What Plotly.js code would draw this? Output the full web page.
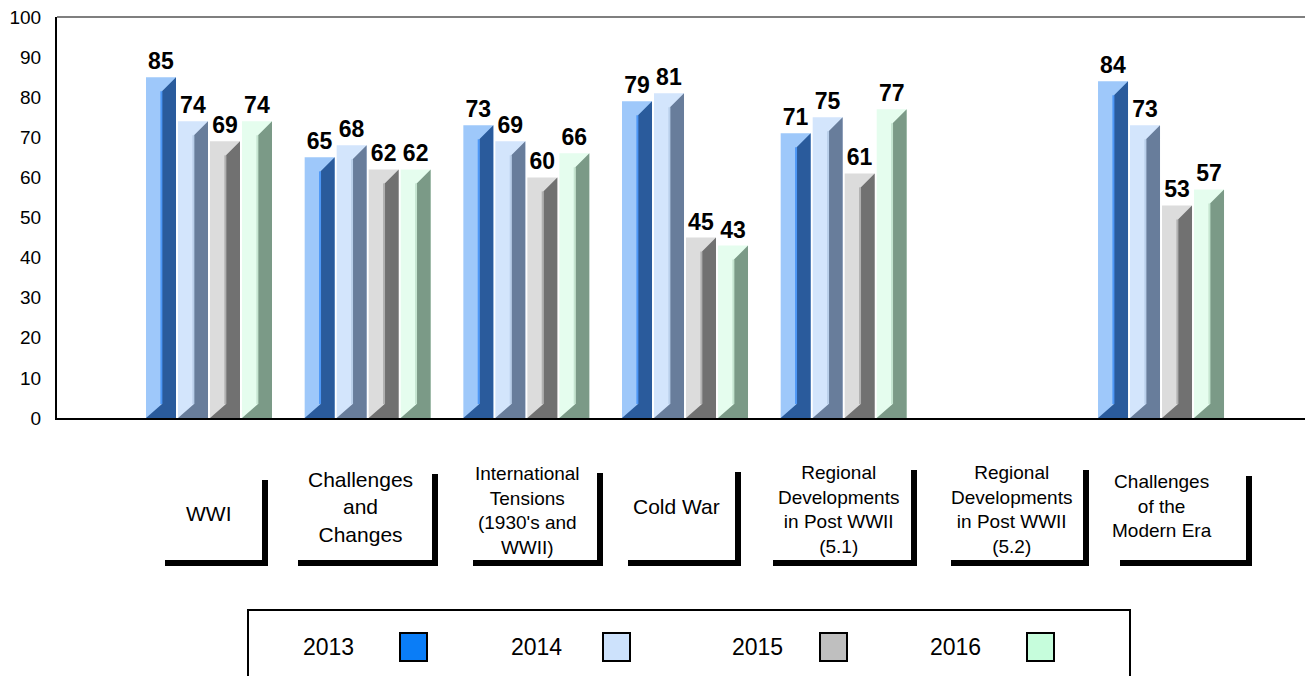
<!DOCTYPE html>
<html><head><meta charset="utf-8">
<script src="https://cdn.plot.ly/plotly-3.0.1.min.js"></script>
<style>body{margin:0;background:#fff}#chart{width:1306px;height:676px}</style>
</head><body><div id="chart"></div>
<script>
// ---- data ----
const categories = ["WWI", "Challenges<br>and<br>Changes", "International<br>Tensions<br>(1930's and<br>WWII)", "Cold War",
  "Regional<br>Developments<br>in Post WWII<br>(5.1)", "Regional<br>Developments<br>in Post WWII<br>(5.2)", "Challenges<br>of the<br>Modern Era"];
const years = ["2013", "2014", "2015", "2016"];
const v2013 = [85, 65, 73, 79, 71, null, 84];
const v2014 = [74, 68, 69, 81, 75, null, 73];
const v2015 = [69, 62, 60, 45, 61, null, 53];
const v2016 = [74, 62, 66, 43, 77, null, 57];
const yTicks = [0, 10, 20, 30, 40, 50, 60, 70, 80, 90, 100];

// ---- style ----
const series = [v2013, v2014, v2015, v2016];
const faceColors = ['#9EC8FA', '#D3E5FC', '#DCDCDC', '#E5FDEE'];
const sideColors = ['#2A5B9C', '#687D9B', '#717171', '#7B9A87'];
const edgeColors = ['#4D97F6', '#B9CFEA', '#B0B0B0', '#C5E5D0'];
const legendColors = ['#0A7DF7', '#CDE2FC', '#BFBFBF', '#C6FDDC'];
const FONT = 'Liberation Sans, Arial, sans-serif';

const W = 1306, H = 676, ML = 57, MR = 1, MT = 17, MB = 258;
const plotW = W - ML - MR, plotH = H - MT - MB;
const pitchPx = 158.67;          // category spacing in px
const firstCenterPx = 209;       // first category centre
const xMin = -(firstCenterPx - ML) / pitchPx;
const xMax = xMin + plotW / pitchPx;
const barPitch = 32 / pitchPx, barW = 30 / pitchPx;
const sideFrac = 14 / 30;         // dark side portion of bar
const bevel = 14 / (plotH / 100); // bevel depth in y units

const px = p => (p - ML) / plotW;
const py = p => (H - MB - p) / plotH;

const traces = [];
series.forEach((vals, s) => {
  const xs = vals.map((v, i) => i + (s - 1.5) * barPitch);
  traces.push({
    type: 'bar', x: xs, y: vals, width: barW, name: years[s],
    marker: {color: faceColors[s], line: {width: 0}},
    text: vals.map(v => v == null ? '' : String(v)), textposition: 'outside',
    constraintext: 'none', cliponaxis: false,
    textfont: {family: FONT, size: 23, color: '#000', weight: 'bold'},
    hoverinfo: 'x+y', showlegend: false
  });
});
series.forEach((vals, s) => {
  const px_ = [], py_ = [], ex = [], ey = [];
  vals.forEach((v, i) => {
    if (v == null) return;
    const c = i + (s - 1.5) * barPitch;
    const L = c - barW / 2, R = c + barW / 2, M = R - barW * sideFrac;
    px_.push(M, R, R, L, M, M, null);
    py_.push(v - bevel, v, 0, 0, bevel, v - bevel, null);
    ex.push(M - 0.004, M - 0.004, null);
    ey.push(bevel, v - bevel, null);
  });
  traces.push({type: 'scatter', mode: 'lines', x: px_, y: py_, fill: 'toself',
    fillcolor: sideColors[s], line: {width: 0, color: sideColors[s]}, hoverinfo: 'skip', showlegend: false});
  traces.push({type: 'scatter', mode: 'lines', x: ex, y: ey,
    line: {width: 2, color: edgeColors[s]}, hoverinfo: 'skip', showlegend: false});
});

// category label boxes (pixel layout)
const boxes = [
  {l: 165, r: 268, t: 480, cx: 208, cy: 513, fs: 21},
  {l: 298, r: 438, t: 474, cx: 360, cy: 507, fs: 21},
  {l: 473, r: 603, t: 473, cx: 527, cy: 511, fs: 19},
  {l: 628, r: 741, t: 472, cx: 676, cy: 506, fs: 21},
  {l: 773, r: 917, t: 470, cx: 838, cy: 509, fs: 19},
  {l: 951, r: 1089, t: 470, cx: 1012, cy: 509, fs: 19},
  {l: 1120, r: 1252, t: 476, cx: 1162, cy: 506, fs: 19}
];
const shapes = [
  {type: 'line', xref: 'paper', yref: 'paper', x0: 0, x1: 1, y0: 1, y1: 1, line: {color: '#7f7f7f', width: 2}}
];
const annotations = [];
boxes.forEach((b, i) => {
  shapes.push({type: 'rect', xref: 'paper', yref: 'paper', x0: px(b.l), x1: px(b.r), y0: py(560), y1: py(566),
    fillcolor: '#000', line: {width: 0}});
  shapes.push({type: 'rect', xref: 'paper', yref: 'paper', x0: px(b.r - 6), x1: px(b.r), y0: py(b.t), y1: py(566),
    fillcolor: '#000', line: {width: 0}});
  annotations.push({xref: 'paper', yref: 'paper', x: px(b.cx), y: py(b.cy), xanchor: 'center', yanchor: 'middle',
    text: categories[i], showarrow: false, align: 'center', font: {family: FONT, size: b.fs, color: '#000'}});
});
// manual legend (text then swatch)
shapes.push({type: 'rect', xref: 'paper', yref: 'paper', x0: px(248), x1: px(1130), y0: py(610), y1: py(700),
  line: {color: '#000', width: 2}, fillcolor: 'rgba(0,0,0,0)'});
const legendItems = [{tx: 328, sx: 400}, {tx: 536, sx: 603}, {tx: 757, sx: 820}, {tx: 955, sx: 1027}];
legendItems.forEach((it, s) => {
  annotations.push({xref: 'paper', yref: 'paper', x: px(it.tx), y: py(647), xanchor: 'center', yanchor: 'middle',
    text: years[s], showarrow: false, font: {family: FONT, size: 23, color: '#000'}});
  shapes.push({type: 'rect', xref: 'paper', yref: 'paper', x0: px(it.sx), x1: px(it.sx + 27), y0: py(661), y1: py(633),
    fillcolor: legendColors[s], line: {color: '#000', width: 2}});
});

const layout = {
  width: W, height: H, margin: {l: ML, r: MR, t: MT, b: MB},
  paper_bgcolor: '#fff', plot_bgcolor: '#fff', barmode: 'overlay', showlegend: false,
  xaxis: {type: 'linear', range: [xMin, xMax], showticklabels: false, showgrid: false, zeroline: false,
    showline: true, linecolor: '#000', linewidth: 2, ticks: '', fixedrange: true},
  yaxis: {range: [0, 100], tickvals: yTicks, ticktext: yTicks.map(String), showgrid: false, zeroline: false,
    showline: true, linecolor: '#000', linewidth: 2, ticks: 'outside', ticklen: 10, tickcolor: 'rgba(0,0,0,0)',
    tickfont: {family: FONT, size: 19, color: '#000'}, fixedrange: true},
  shapes: shapes, annotations: annotations
};
Plotly.newPlot('chart', traces, layout, {displayModeBar: false, staticPlot: true});
</script></body></html>
